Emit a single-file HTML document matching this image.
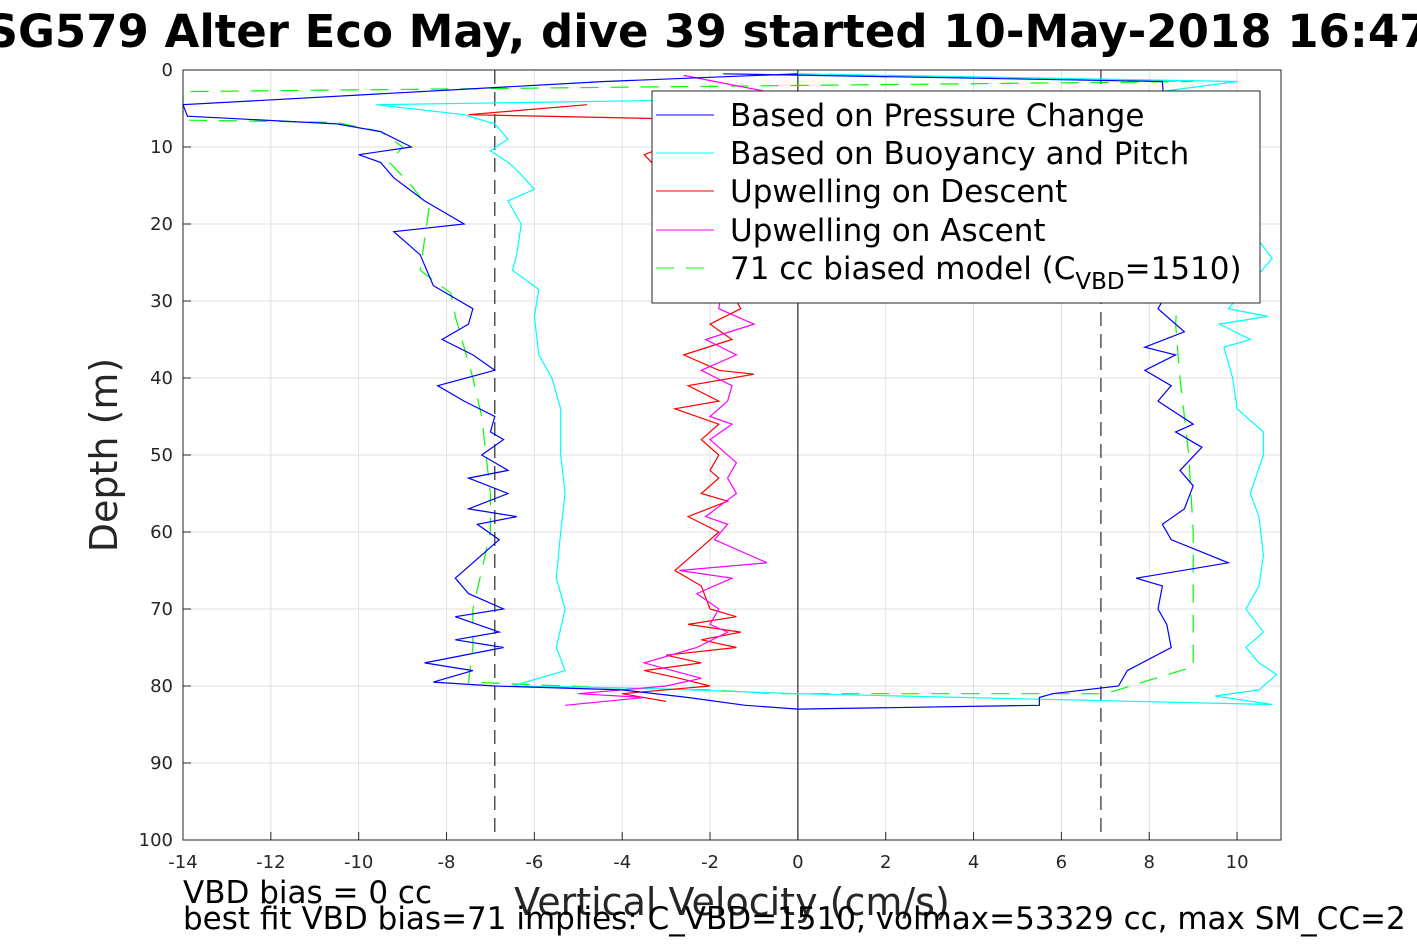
<!DOCTYPE html>
<html><head><meta charset="utf-8"><style>
body{margin:0;background:#fff;}
svg{display:block;font-family:"DejaVu Sans","Liberation Sans",sans-serif;}
</style></head><body>
<svg id="chart" width="1417" height="945" viewBox="0 0 1417 945">
<rect width="1417" height="945" fill="#fff"/>
<g id="grid"></g>
<g id="series"></g>
<rect x="183" y="70" width="1098" height="770" fill="none" stroke="#262626" stroke-width="1"/>
<g id="ticks"></g>
<text x="708" y="47" text-anchor="middle" font-size="45" font-weight="bold" fill="#000">SG579 Alter Eco May, dive 39 started 10-May-2018 16:47</text>
<text transform="translate(117,455) rotate(-90)" text-anchor="middle" font-size="38" fill="#262626">Depth (m)</text>
<text x="732" y="915" text-anchor="middle" font-size="38" fill="#262626">Vertical Velocity (cm/s)</text>
<text x="183" y="903" font-size="31" fill="#000">VBD bias = 0 cc</text>
<text x="183" y="929" font-size="31" fill="#000">best fit VBD bias=71 implies: C_VBD=1510, volmax=53329 cc, max SM_CC=2</text>
<g>
<rect x="652" y="91" width="608" height="212" fill="#fff" stroke="#262626" stroke-width="1"/>
<line x1="656" y1="115" x2="714" y2="115" stroke="#0000ff"/>
<text x="730" y="126" font-size="31">Based on Pressure Change</text>
<line x1="656" y1="153" x2="714" y2="153" stroke="#00ffff"/>
<text x="730" y="164" font-size="31">Based on Buoyancy and Pitch</text>
<line x1="656" y1="191" x2="714" y2="191" stroke="#ff0000"/>
<text x="730" y="202" font-size="31">Upwelling on Descent</text>
<line x1="656" y1="230" x2="714" y2="230" stroke="#ff00ff"/>
<text x="730" y="241" font-size="31">Upwelling on Ascent</text>
<line x1="656" y1="268" x2="714" y2="268" stroke="#00ff00" stroke-dasharray="18,12"/>
<text x="730" y="279" font-size="31">71 cc biased model (C<tspan font-size="23" dy="10">VBD</tspan><tspan dy="-10">=1510)</tspan></text>
</g>
</svg>
<script>
const xTicks=[-14,-12,-10,-8,-6,-4,-2,0,2,4,6,8,10];
const yTicks=[0,10,20,30,40,50,60,70,80,90,100];
const pressureDepth=[0.5,1.5,4.5,6,7,8,10,11,12,14,17,20,21,24,28,31,33,35,37,39,41,43,45,47,48,50,52,53,55,57,58,59,61,66,68,70,71,73,74,75,77,78,79.5,80,80.5,81.5,82.5,83,82.5,81.5,81,80,78,75,72,70,67,66,64,61,59,57,54,52,49,47,46,43,41,39,37,36,34,31,28,20,10,1.5,0.5];
const pressureVel=[0,-4.4,-14,-13.9,-10.5,-9.5,-8.8,-10,-9.5,-9.2,-8.5,-7.6,-9.2,-8.6,-8.3,-7.4,-7.5,-8.1,-7.4,-6.9,-8.2,-7.6,-6.9,-7.0,-6.7,-7.2,-6.6,-7.5,-6.6,-7.5,-6.4,-7.3,-6.8,-7.8,-7.5,-6.7,-7.8,-6.8,-7.8,-6.7,-8.5,-7.4,-8.3,-6.9,-4,-2.5,-1.2,0,5.5,5.5,5.8,7.3,7.5,8.5,8.4,8.2,8.3,7.7,9.8,8.5,8.3,8.8,9.0,8.7,9.2,8.6,9.0,8.2,8.5,7.9,8.6,7.9,8.8,8.2,8.5,8.5,8.4,8.3,-1.7];
const buoyDepth=[0.5,1.5,3,4.5,5.8,7,9,10.5,12,13,15.5,17,20,24,26,28.5,32,37,40,44,50,55,60,66,70,75,78,80,80.3,81,82.4,81.3,80.5,78.5,77,75,73,70,67,63,58,55,50,47,44,40,36,35,33,32,31,24.5,3,1.5,0.5];
const buoyVel=[0,10,8,-9.6,-7.6,-6.9,-6.6,-7,-6.6,-6.4,-6,-6.6,-6.3,-6.4,-6.5,-5.9,-6,-5.9,-5.6,-5.4,-5.4,-5.3,-5.4,-5.5,-5.3,-5.5,-5.3,-6.5,-3.5,0,10.8,9.5,10.5,10.9,10.5,10.2,10.6,10.2,10.5,10.6,10.5,10.3,10.6,10.6,10.0,9.9,9.7,10.3,9.6,10.7,9.8,10.8,8.0,10,0];
const modelDepth=[0.5,1.5,2.8,6.5,6.8,8,10,12,15,18,22,26,29,32,36,40,45,50,55,60,65,70,75,79.5,80.3,80.5,81,81,77.5,70,60,50,40,33,25];
const modelVel=[0,9,-14,-14,-10.5,-9.5,-9,-9.3,-8.8,-8.4,-8.5,-8.6,-7.9,-7.8,-7.6,-7.4,-7.2,-7.1,-7.0,-7.0,-7.2,-7.4,-7.4,-7.5,-4,-2,-0.5,7,9,9.0,9.0,8.9,8.7,8.6,8.7];
const descentDepth=[4.5,5.8,6.5,11,20,30,31,33,35,37,39,39.5,41,43,44,46,48,50,52,53,55,56,58,60,62,65,67,70,71,72,73,74,75,76,77,78,79,80,81,82];
const descentVel=[-4.8,-7.5,-1.5,-3.5,-2.0,-1.4,-1.3,-2,-1.5,-2.6,-1.8,-1.0,-2.5,-1.8,-2.8,-1.8,-2.2,-1.8,-2.0,-1.8,-2.2,-1.6,-2.5,-1.8,-2.2,-2.8,-2.2,-2.0,-1.4,-2.5,-1.3,-2.2,-1.4,-3.0,-2.2,-3.5,-2.7,-2.0,-4.0,-3.0];
const ascentDepth=[0.7,2.7,20,31,33,35,37,39,41,43,45,46,48,51,53,55,58,59,61,64,65,66,68,70,72,73,75,77,79,80,81,81.5,82.5];
const ascentVel=[-2.6,-0.8,-1.5,-1.8,-1.0,-2.1,-1.4,-2.2,-1.5,-1.6,-2.0,-1.5,-2.0,-1.4,-1.6,-1.4,-2.1,-1.6,-1.9,-0.7,-2.7,-1.5,-2.3,-1.8,-2.0,-1.6,-2.3,-3.5,-2.2,-3.0,-5.0,-3.5,-5.3];
const limitVel=[-6.9,6.9];

const X0=183,X1=1281,Y0=70,Y1=840,XMIN=-14,XMAX=11,YMIN=0,YMAX=100;
function sx(v){return X0+(v-XMIN)/(XMAX-XMIN)*(X1-X0);}
function sy(d){return Y0+(d-YMIN)/(YMAX-YMIN)*(Y1-Y0);}
const NS='http://www.w3.org/2000/svg';
const grid=document.getElementById('grid'),ticks=document.getElementById('ticks'),ser=document.getElementById('series');
function mk(tag,attrs,parent){const e=document.createElementNS(NS,tag);for(const k in attrs)e.setAttribute(k,attrs[k]);parent.appendChild(e);return e;}
xTicks.forEach(t=>{
  const g=mk('line',{x1:sx(t),x2:sx(t),y1:Y0,y2:Y1,stroke:'#dfdfdf','stroke-width':1},grid);
  
  
  const tk=mk('line',{x1:sx(t),x2:sx(t),y1:Y1,y2:Y1-8,stroke:'#262626'},ticks);
  
  
  const tx=mk('text',{x:sx(t),y:Y1+28,'text-anchor':'middle','font-size':18,fill:'#262626'},ticks);
  tx.textContent=t;
  
  
});
yTicks.forEach(t=>{
  const g=mk('line',{x1:X0,x2:X1,y1:sy(t),y2:sy(t),stroke:'#dfdfdf','stroke-width':1},grid);
  
  
  const tk=mk('line',{x1:X0,x2:X0+8,y1:sy(t),y2:sy(t),stroke:'#262626'},ticks);
  
  
  const tx=mk('text',{x:X0-10,y:sy(t)+6,'text-anchor':'end','font-size':18,fill:'#262626'},ticks);
  tx.textContent=t;
  
  
});
const zl=mk('line',{x1:sx(0),x2:sx(0),y1:Y0,y2:Y1,stroke:'#000','stroke-width':1},ser);


limitVel.forEach(v=>{
  const l=mk('line',{x1:sx(v),x2:sx(v),y1:Y0,y2:Y1,stroke:'#000','stroke-width':1,'stroke-dasharray':'14,8'},ser);
  
  
});
function line(ds,vs,color,name,dash){
  const pts=ds.map((d,i)=>sx(vs[i]).toFixed(1)+','+sy(d).toFixed(1)).join(' ');
  const a={points:pts,fill:'none',stroke:color,'stroke-width':1.2};
  if(dash)a['stroke-dasharray']=dash;
  const p=mk('polyline',a,ser);
  
  
}
line(modelDepth,modelVel,'#00ff00','model-line','18,12');
line(buoyDepth,buoyVel,'#00ffff','buoyancy-line');
line(descentDepth,descentVel,'#ff0000','descent-upwelling-line');
line(ascentDepth,ascentVel,'#ff00ff','ascent-upwelling-line');
line(pressureDepth,pressureVel,'#0000ff','pressure-line');
</script>
</body></html>
